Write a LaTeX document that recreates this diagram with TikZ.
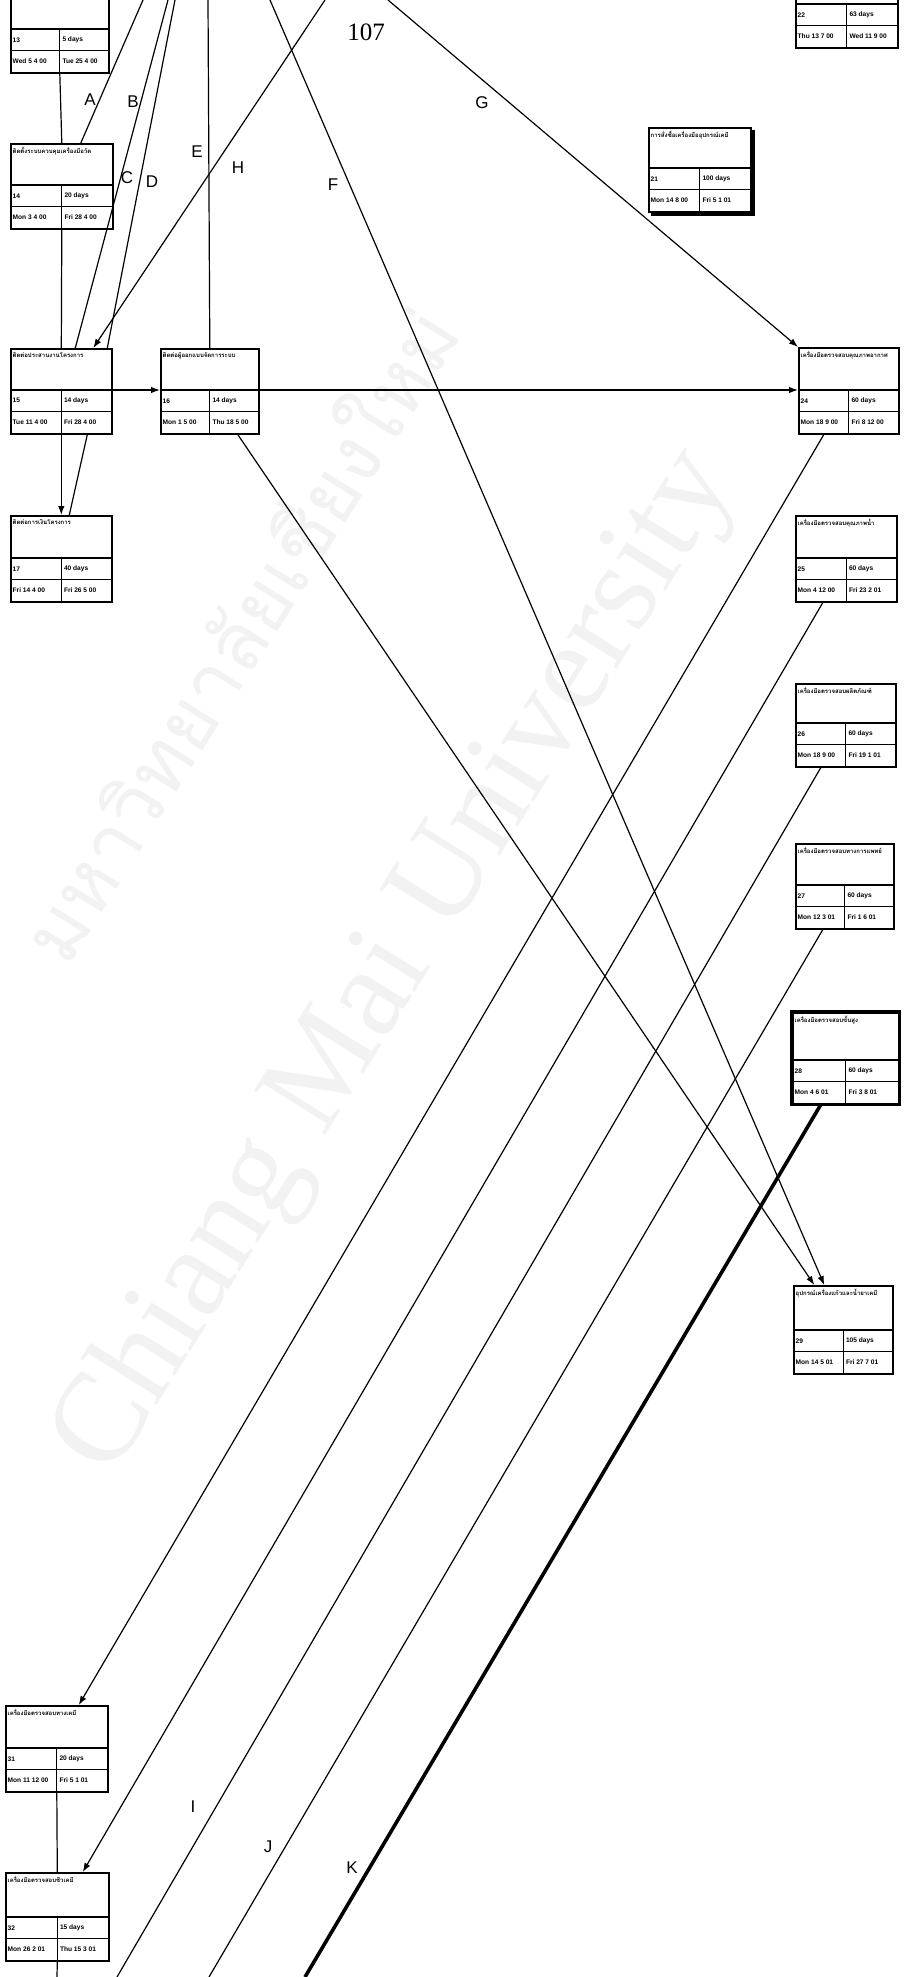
\documentclass[tikz,border=0pt]{standalone}
\usepackage{fontspec}
\setmainfont{Liberation Serif}
\newfontfamily\thaifont[Script=Thai]{Loma}
\newfontfamily\boxfont{Liberation Sans}
\usetikzlibrary{arrows.meta,calc}

\tikzset{
  tbox/.style={draw, line width=1.6pt, inner sep=0pt},
  tin/.style={line width=1.3pt},
  ttl/.style={inner sep=0pt, font=\thaifont\bfseries\fontsize{6}{7}\selectfont},
  tcell/.style={anchor=west, inner sep=0pt, font=\boxfont\bfseries\fontsize{6.6}{7}\selectfont},
  conn/.style={line width=1.2pt},
  arr/.style={conn, -{Latex[length=9pt,width=6.5pt]}},
  lbl/.style={inner sep=0pt, font=\boxfont\fontsize{17}{17}\selectfont},
  wm/.style={inner sep=0pt, text=gray!10}
}

% name, (left,top), width, title height, title, id, duration, start, finish
\newcommand\tbox[9]{%
  \node[tbox, anchor=north west, minimum width=#3pt, minimum height={#4pt+43pt}] (#1) at (#2) {};
  \draw[tin] ([yshift=-#4pt]#1.north west) -- ([yshift=-#4pt]#1.north east);
  \draw[tin] ([yshift={-#4pt-21.5pt}]#1.north west) -- ([yshift={-#4pt-21.5pt}]#1.north east);
  \draw[tin] ([yshift=-#4pt]#1.north) -- (#1.south);
  \node[ttl, anchor=north west] (#1-t) at ([xshift=2.5pt,yshift=-4pt]#1.north west) {#5};
  \node[tcell] (#1-i) at ([xshift=2.5pt,yshift={-#4pt-10.75pt}]#1.north west) {#6};
  \node[tcell] (#1-d) at ([xshift=2.5pt,yshift={-#4pt-10.75pt}]#1.north) {#7};
  \node[tcell] (#1-s) at ([xshift=2.5pt,yshift={-#4pt-32.25pt}]#1.north west) {#8};
  \node[tcell] (#1-f) at ([xshift=2.5pt,yshift={-#4pt-32.25pt}]#1.north) {#9};
}

\begin{document}
\begin{tikzpicture}[x=1pt,y=-1pt]
\path[use as bounding box, clip] (0,0) rectangle (905,1977);
\fill[white] (0,0) rectangle (905,1977);

% watermark
\node[wm, rotate=58, font=\thaifont\fontsize{80}{80}\selectfont] (wmth) at (235,632) {มหาวิทยาลัยเชียงใหม่};
\node[wm, rotate=58, font=\fontsize{128}{128}\selectfont] (wmen) at (397,963) {Chiang Mai University};

% page number
\node[inner sep=0pt, font=\fontsize{25}{25}\selectfont] (pg) at (366,32) {107};

% task boxes
\tbox{bA}{10,-14}{98}{43}{}{13}{5 days}{Wed 5 4 00}{Tue 25 4 00}
\tbox{bB}{10,143}{102}{42}{ติดตั้งระบบควบคุมเครื่องมือวัด}{14}{20 days}{Mon 3 4 00}{Fri 28 4 00}
\tbox{b15}{10,348}{101}{42}{ติดต่อประสานงานโครงการ}{15}{14 days}{Tue 11 4 00}{Fri 28 4 00}
\tbox{b16}{160,348}{98}{42}{ติดต่อผู้ออกแบบจัดการระบบ}{16}{14 days}{Mon 1 5 00}{Thu 18 5 00}
\tbox{b17}{10,515}{101}{43}{ติดต่อการเงินโครงการ}{17}{40 days}{Fri 14 4 00}{Fri 26 5 00}
\tbox{b21}{648,127}{102}{41}{การสั่งซื้อเครื่องมืออุปกรณ์เคมี}{21}{100 days}{Mon 14 8 00}{Fri 5 1 01}
\draw[line width=3pt] ([xshift=2pt,yshift=-3pt]b21.north east) -- ([xshift=2pt,yshift=-2pt]b21.south east) -- ([xshift=3pt,yshift=-2pt]b21.south west);
\tbox{b22}{795,-39}{102}{43}{}{22}{63 days}{Thu 13 7 00}{Wed 11 9 00}
\tbox{b24}{798,347}{100}{43}{เครื่องมือตรวจสอบคุณภาพอากาศ}{24}{60 days}{Mon 18 9 00}{Fri 8 12 00}
\tbox{b25}{795,515}{101}{43}{เครื่องมือตรวจสอบคุณภาพน้ำ}{25}{60 days}{Mon 4 12 00}{Fri 23 2 01}
\tbox{b26}{795,683}{100}{40}{เครื่องมือตรวจสอบผลิตภัณฑ์}{26}{60 days}{Mon 18 9 00}{Fri 19 1 01}
\tbox{b27}{795,843}{98}{42}{เครื่องมือตรวจสอบทางการแพทย์}{27}{60 days}{Mon 12 3 01}{Fri 1 6 01}
\tbox{b28}{792,1012}{106}{48}{เครื่องมือตรวจสอบขั้นสูง}{28}{60 days}{Mon 4 6 01}{Fri 3 8 01}
\draw[line width=3.2pt] (b28.north west) rectangle (b28.south east);
\tbox{b29}{793,1285}{99}{45}{อุปกรณ์เครื่องแก้วและน้ำยาเคมี}{29}{105 days}{Mon 14 5 01}{Fri 27 7 01}
\tbox{b31}{5,1705}{102}{43}{เครื่องมือตรวจสอบทางเคมี}{31}{20 days}{Mon 11 12 00}{Fri 5 1 01}
\tbox{b32}{5,1872}{103}{45}{เครื่องมือตรวจสอบชีวเคมี}{32}{15 days}{Mon 26 2 01}{Thu 15 3 01}

% free ends of connectors
\coordinate (tA) at (143,0);
\coordinate (tC) at (168,0);
\coordinate (tD) at (175,0);
\coordinate (tE) at (208,0);
\coordinate (tF) at (270,0);
\coordinate (tH) at (325,0);
\coordinate (tG) at (388,0);
\coordinate (eI) at (117,1977);
\coordinate (eJ) at (209,1977);
\coordinate (eK) at (305,1977);
\coordinate (eL) at (57,1977);

% connectors
\draw[conn] (bA.south) -- (bB.north);
\draw[conn] (bB.south) -- (b15.north);
\draw[arr] ([yshift=-42pt]b15.north east) -- ([yshift=-42pt]b16.north west);
\draw[arr] ([yshift=-42pt]b16.north east) -- ([yshift=-43pt]b24.north west);
\draw[arr] (b15.south) -- (b17.north);
\draw[conn] ([xshift=26pt]b15.south) -- ([xshift=8pt]b17.north);
\draw[conn] (tE) -- (b16.north);
\draw[arr] (tH) -- ([xshift=32pt]b15.north);
\draw[conn] (tA) -- ([xshift=19pt]bB.north);
\draw[conn] (tC) -- ([xshift=14pt]b15.north);
\draw[conn] (tD) -- ([xshift=46pt]b15.north);
\draw[arr] (tG) -- (b24.north west);
\draw[arr] (tF) -- ([xshift=-19pt]b29.north);
\draw[arr] ([xshift=28pt]b16.south) -- ([xshift=-29pt]b29.north);
\draw[arr] ([xshift=-25pt]b24.south) -- ([xshift=22pt]b31.north);
\draw[arr] ([xshift=-23.5pt]b25.south) -- ([xshift=25.5pt]b32.north);
\draw[conn] ([xshift=-25pt]b26.south) -- (eI);
\draw[conn] ([xshift=-22pt]b27.south) -- (eJ);
\draw[line width=3.6pt] ([xshift=-25pt]b28.south) -- (eK);
\draw[conn] (b31.south) -- (b32.north);
\draw[conn] (b32.south) -- (eL);

% labels
\node[lbl] (lA) at (90,100) {A};
\node[lbl] (lB) at (133,102) {B};
\node[lbl] (lC) at (127,178) {C};
\node[lbl] (lD) at (152,182) {D};
\node[lbl] (lE) at (197,152) {E};
\node[lbl] (lH) at (238,168) {H};
\node[lbl] (lF) at (333,185) {F};
\node[lbl] (lG) at (482,103) {G};
\node[lbl] (lI) at (193,1807) {I};
\node[lbl] (lJ) at (268,1847) {J};
\node[lbl] (lK) at (352,1868) {K};
\end{tikzpicture}
\end{document}
